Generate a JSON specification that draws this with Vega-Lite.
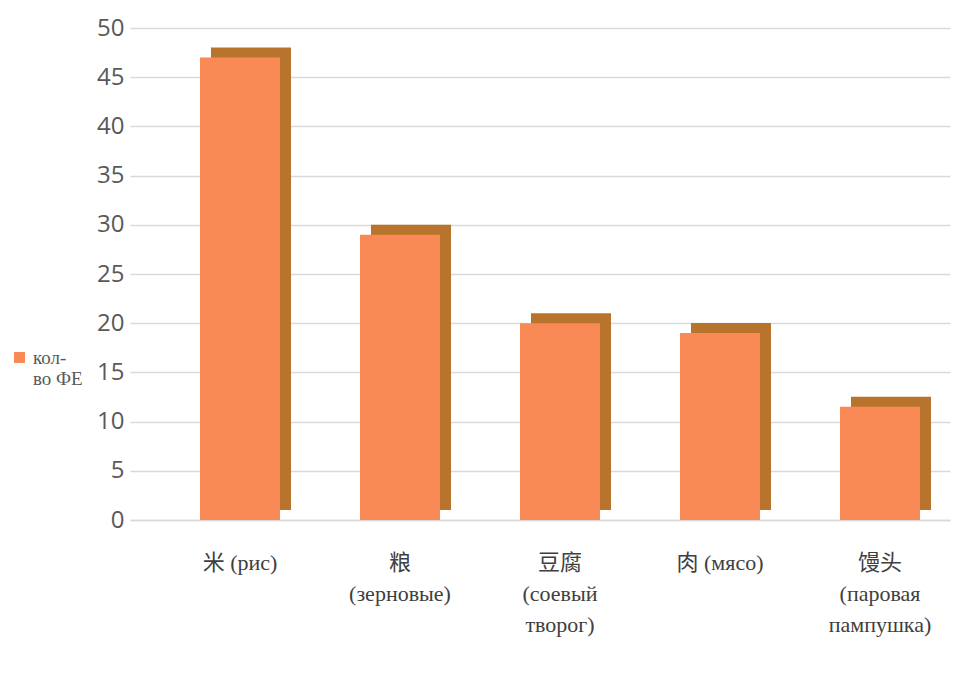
{
  "$schema": "https://vega.github.io/schema/vega-lite/v6.json",
  "width": 820,
  "height": 492,
  "autosize": {"type": "none"},
  "padding": {"left": 130, "top": 28, "right": 18, "bottom": 171},
  "background": "white",
  "config": {
    "view": {"stroke": null},
    "axis": {"labelColor": "#595959"}
  },
  "data": {
    "values": [
      {"food": "米 (рис)", "series": "кол-во ФЕ", "value": 47},
      {"food": "粮\n(зерновые)", "series": "кол-во ФЕ", "value": 29},
      {"food": "豆腐\n(соевый\nтворог)", "series": "кол-во ФЕ", "value": 20},
      {"food": "肉 (мясо)", "series": "кол-во ФЕ", "value": 19},
      {"food": "馒头\n(паровая\nпампушка)", "series": "кол-во ФЕ", "value": 11.5}
    ]
  },
  "encoding": {
    "x": {
      "field": "food",
      "type": "nominal",
      "sort": null,
      "scale": {"paddingInner": 0.5, "paddingOuter": 0.3125, "align": 0.7},
      "axis": {
        "title": null,
        "labelAngle": 0,
        "labelExpr": "split(datum.value, '\\n')",
        "labelFont": "Liberation Serif, Noto Sans CJK SC",
        "labelFontSize": 22,
        "labelLineHeight": 31,
        "labelColor": "#404040",
        "labelPadding": 32,
        "labelBaseline": "top",
        "ticks": false,
        "domainColor": "#d9d9d9",
        "domainWidth": 1.5
      }
    },
    "y": {
      "field": "value",
      "type": "quantitative",
      "scale": {"domain": [0, 50], "nice": false},
      "axis": {
        "title": null,
        "values": [0, 5, 10, 15, 20, 25, 30, 35, 40, 45, 50],
        "labelFont": "Open Sans",
        "labelFontSize": 24,
        "labelPadding": 6,
        "ticks": false,
        "domain": false,
        "gridColor": "#d9d9d9",
        "gridWidth": 1.5
      }
    }
  },
  "layer": [
    {
      "mark": {"type": "bar", "color": "#B8742C", "xOffset": 11, "yOffset": -10, "y2Offset": -10},
      "encoding": {"y2": {"datum": 0}}
    },
    {
      "mark": {"type": "bar"},
      "encoding": {
        "color": {
          "field": "series",
          "type": "nominal",
          "scale": {"range": ["#F98A55"]},
          "legend": {
            "title": null,
            "orient": "none",
            "legendX": -120,
            "legendY": 320,
            "symbolType": "square",
            "symbolSize": 120,
            "labelExpr": "['кол-', 'во ФЕ']",
            "labelFont": "Liberation Serif",
            "labelFontSize": 19,
            "labelColor": "#595959",
            "labelLineHeight": 26
          }
        }
      }
    }
  ]
}
